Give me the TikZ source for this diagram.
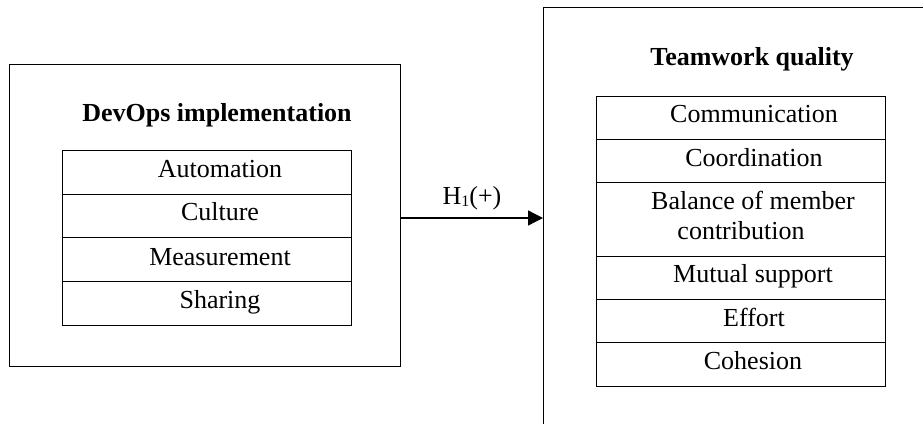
\documentclass[tikz,border=0pt]{standalone}
\usepackage{fontspec}
\setmainfont{Liberation Serif}
\usetikzlibrary{arrows.meta}
\begin{document}
\begin{tikzpicture}[x=1pt,y=-1pt,
  box/.style={draw, line width=1.2pt, rectangle, inner sep=0pt, anchor=north west},
  cellbox/.style={draw, line width=1.3pt, rectangle, inner sep=0pt, anchor=north west, minimum width=289pt},
  txt/.style={anchor=base, inner sep=0pt, font=\fontsize{26pt}{30pt}\selectfont},
  ttl/.style={anchor=base, inner sep=0pt, font=\fontsize{26pt}{30pt}\selectfont\bfseries},
  conn/.style={line width=1.3pt, -{Triangle[length=15pt,width=15pt]}}]
\clip (0,0) rectangle (923,423);
\fill[white] (0,0) rectangle (923,423);
% left box
\node[box, minimum width=391pt, minimum height=302pt] (dev) at (9,64) {};
\node[ttl] (devt) at (217,121.7) {DevOps implementation};
\node[cellbox, minimum height=44pt] (c1) at (62,150) {};
\node[cellbox, minimum height=43pt] (c2) at (62,194) {};
\node[cellbox, minimum height=44pt] (c3) at (62,237) {};
\node[cellbox, minimum height=44pt] (c4) at (62,281) {};
\node[txt] (t1) at (220,177.7) {Automation};
\node[txt] (t2) at (220,220.7) {Culture};
\node[txt] (t3) at (220,265) {Measurement};
\node[txt] (t4) at (220,308.3) {Sharing};
% right box
\node[box, minimum width=500pt, minimum height=500pt] (tq) at (543,7) {};
\node[ttl] (tqt) at (752,65.3) {Teamwork quality};
\node[cellbox, minimum height=43pt] (r1) at (596,96) {};
\node[cellbox, minimum height=43pt] (r2) at (596,139) {};
\node[cellbox, minimum height=74pt] (r3) at (596,182) {};
\node[cellbox, minimum height=43pt] (r4) at (596,256) {};
\node[cellbox, minimum height=43pt] (r5) at (596,299) {};
\node[cellbox, minimum height=44pt] (r6) at (596,342) {};
\node[txt] (s1) at (754,122.7) {Communication};
\node[txt] (s2) at (754,166) {Coordination};
\node[txt] (s3a) at (753,209.3) {Balance of member};
\node[txt] (s3b) at (741,239.3) {contribution};
\node[txt] (s4) at (753,282.7) {Mutual support};
\node[txt] (s5) at (754,326) {Effort};
\node[txt] (s6) at (753,369.3) {Cohesion};
% connector
\coordinate (a0) at (400,218);
\draw[conn] (a0) -- (a0 -| tq.west);
\node[txt] (h1) at (472,204) {H\raisebox{-0.25ex}{\fontsize{16pt}{16pt}\selectfont 1}(+)};
\end{tikzpicture}
\end{document}
